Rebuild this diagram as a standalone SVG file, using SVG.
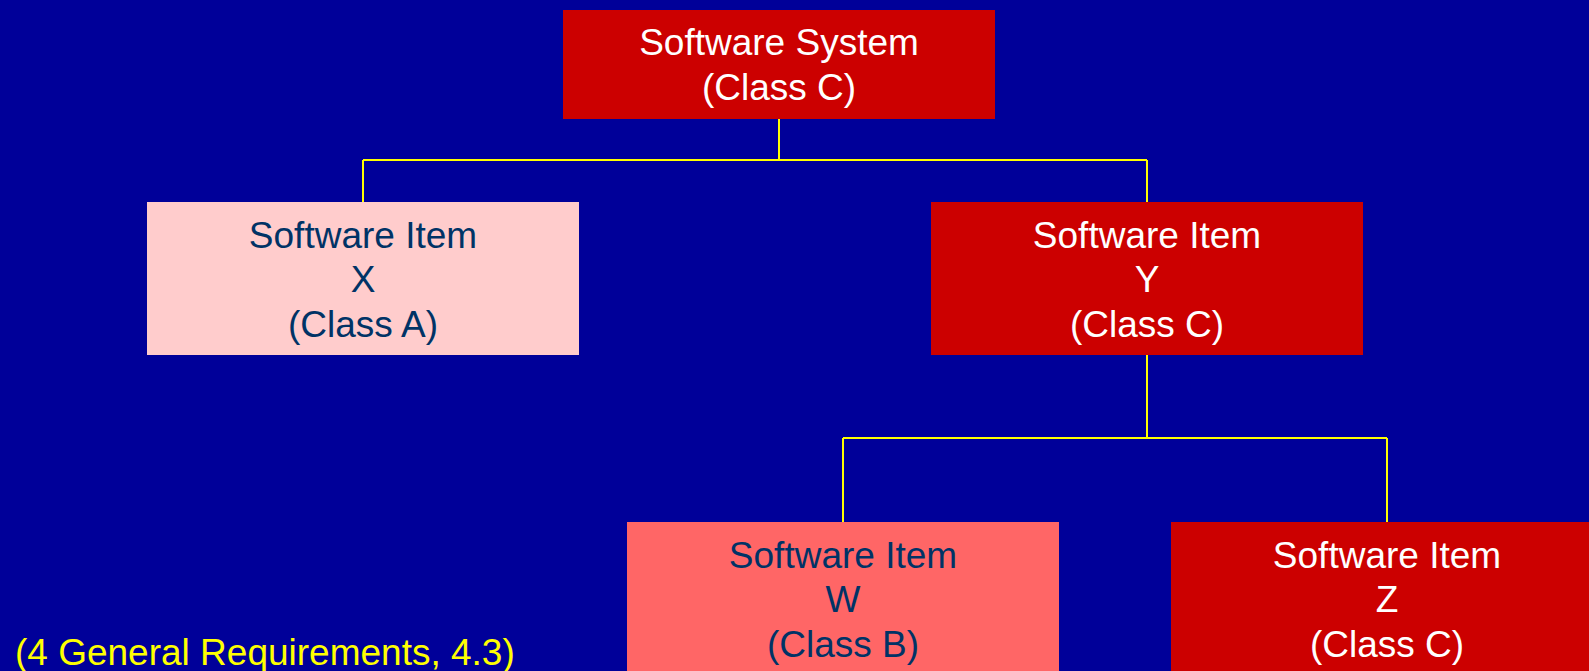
<svg xmlns="http://www.w3.org/2000/svg" width="1589" height="671" viewBox="0 0 1589 671">
<style>
  .bg { fill: #000099; }
  .red { fill: #CC0000; }
  .pink { fill: #FFCCCC; }
  .salmon { fill: #FF6666; }
  text { font-family: "Liberation Sans", Arial, sans-serif; font-size: 37px; text-anchor: middle; }
  .w { fill: #FFFFFF; }
  .n { fill: #003366; }
  .conn { stroke: #FFFF00; stroke-width: 2; fill: none; }
  .foot { fill: #FFFF00; text-anchor: start; }
</style>
<rect class="bg" x="0" y="0" width="1589" height="671"/>
<g id="connectors">
  <path class="conn" d="M779 119 V160 M363 160 H1147 M363 160 V202 M1147 160 V202"/>
  <path class="conn" d="M1147 355 V438 M843 438 H1387 M843 438 V522 M1387 438 V522"/>
</g>
<g id="system">
  <rect class="red" x="563" y="10" width="432" height="109"/>
  <text class="w" x="779" y="55">Software System</text>
  <text class="w" x="779" y="100">(Class C)</text>
</g>
<g id="itemX">
  <rect class="pink" x="147" y="202" width="432" height="153"/>
  <text class="n" x="363" y="248">Software Item</text>
  <text class="n" x="363" y="292">X</text>
  <text class="n" x="363" y="337">(Class A)</text>
</g>
<g id="itemY">
  <rect class="red" x="931" y="202" width="432" height="153"/>
  <text class="w" x="1147" y="248">Software Item</text>
  <text class="w" x="1147" y="292">Y</text>
  <text class="w" x="1147" y="337">(Class C)</text>
</g>
<g id="itemW">
  <rect class="salmon" x="627" y="522" width="432" height="153"/>
  <text class="n" x="843" y="568">Software Item</text>
  <text class="n" x="843" y="612">W</text>
  <text class="n" x="843" y="657">(Class B)</text>
</g>
<g id="itemZ">
  <rect class="red" x="1171" y="522" width="432" height="153"/>
  <text class="w" x="1387" y="568">Software Item</text>
  <text class="w" x="1387" y="612">Z</text>
  <text class="w" x="1387" y="657">(Class C)</text>
</g>
<g id="footnote">
  <text class="foot" x="15" y="665">(4 General Requirements, 4.3)</text>
</g>
</svg>
